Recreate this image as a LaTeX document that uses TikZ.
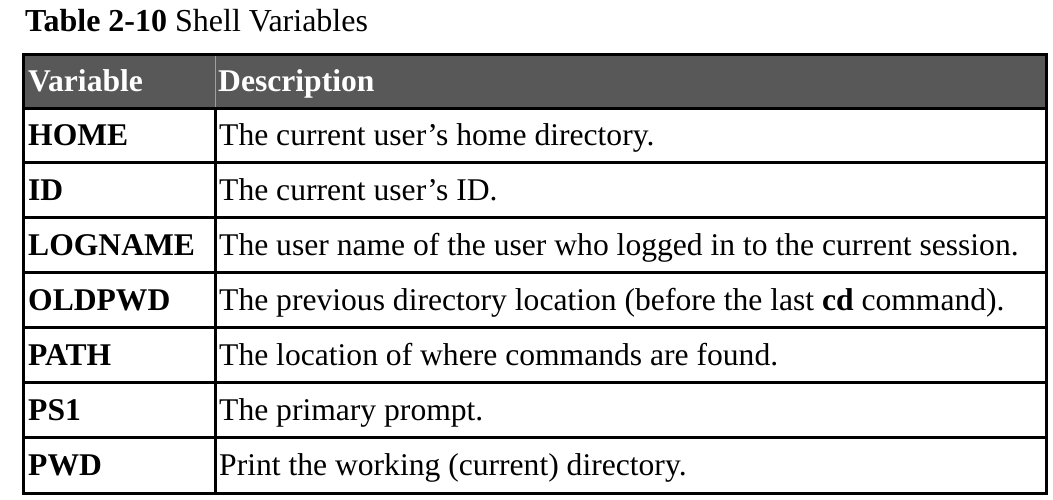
\documentclass[tikz,border=0pt]{standalone}
\usepackage{fontspec}
\setmainfont{Liberation Serif}
\definecolor{headgray}{HTML}{585858}
\begin{document}
\begin{tikzpicture}[x=1pt,y=-1pt]
\tikzstyle{label} = [anchor=base west, inner sep=0pt, font=\fontsize{31.6}{38}\selectfont]
\tikzstyle{keyword} = [label, font=\fontsize{31.6}{38}\selectfont\bfseries]
\tikzstyle{heading} = [keyword, text=white]
\tikzstyle{rule} = [line width=3pt]
\useasboundingbox (0,0) rectangle (1053,499);
%
\node (caption) [label, font=\fontsize{32}{38}\selectfont] at (25,31) {\textbf{Table 2-10} Shell Variables};
%
\fill [headgray] (23,54) rectangle (1046,108);
\draw [gray!75, line width=1pt] (215,54) -- (215,108);
\node (variable)    [heading] at (28,91) {Variable};
\node (description) [heading] at (218,91) {Description};
%
\foreach \i/\name/\text in {
  1/HOME/{The current user’s home directory.},
  2/ID/{The current user’s ID.},
  3/LOGNAME/{The user name of the user who logged in to the current session.},
  4/OLDPWD/{The previous directory location (before the last \textbf{cd} command).},
  5/PATH/{The location of where commands are found.},
  6/PS1/{The primary prompt.},
  7/PWD/{Print the working (current) directory.}} {
  \node (var-\name)  [keyword] at (28,{90+55*\i}) {\name};
  \node (desc-\name) [label]   at (219,{90+55*\i}) {\text};
}
%
\foreach \y in {108,162,217,272,327,382,437}
  \draw [rule] (23,\y) -- (1046,\y);
\draw [rule] (215,108) -- (215,493);
\draw [rule] (23,54) rectangle (1046,493);
\end{tikzpicture}
\end{document}
